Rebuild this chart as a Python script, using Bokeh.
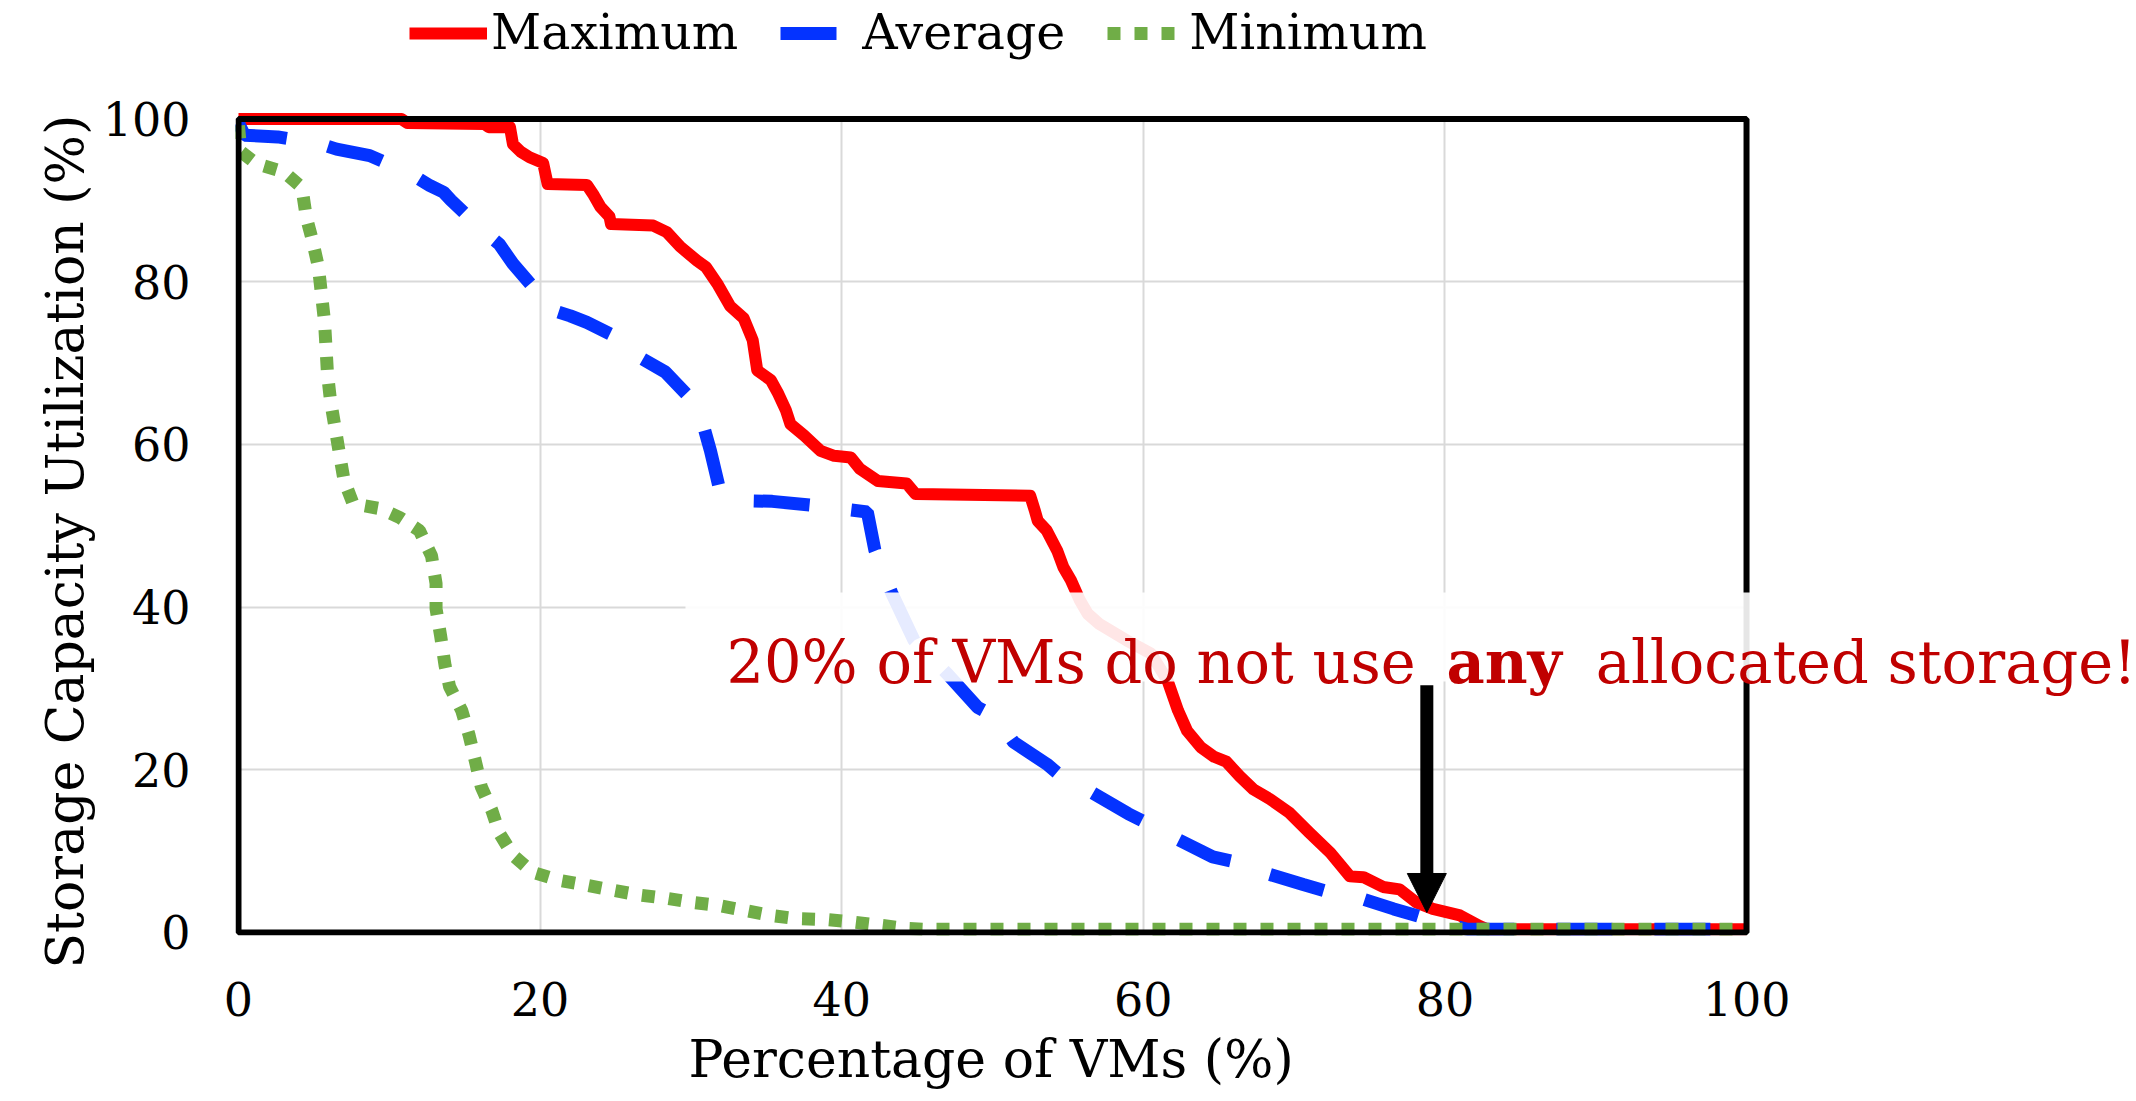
from bokeh.plotting import figure
from bokeh.models import Legend, LegendItem, BoxAnnotation, Label, Arrow, NormalHead, Range1d, Title
from bokeh.embed import file_html
from bokeh.resources import INLINE

# ---------------- data ----------------
max_x = [0, 10.8, 11.2, 16.3, 16.6, 18.0, 18.2, 18.7, 19.3, 20.2, 20.5, 23.1, 23.5, 24.0, 24.6,
         24.7, 27.5, 28.4, 29.3, 30.4, 31.0, 31.8, 32.6, 33.5, 34.1, 34.4, 35.3, 35.8, 36.3, 36.6,
         37.5, 38.6, 39.5, 40.6, 41.2, 42.4, 44.3, 44.9, 52.5, 52.8, 53.0, 53.6, 54.3, 54.7, 55.2,
         55.8, 56.3, 57.1, 58.9, 60.5, 61.6, 62.3, 62.9, 63.8, 64.7, 65.5, 66.4, 67.3, 68.4, 69.7,
         71.0, 72.4, 73.7, 74.6, 75.9, 77.0, 78.1, 79.2, 81.0, 82.3, 82.8, 100]
max_y = [100, 100, 99.5, 99.4, 99.0, 99.0, 96.9, 96.0, 95.3, 94.6, 92.0, 91.9, 90.8, 89.2, 88.0,
         87.1, 86.9, 86.1, 84.3, 82.6, 81.8, 79.6, 77.0, 75.5, 72.8, 69.1, 67.9, 66.2, 64.2, 62.5,
         61.1, 59.2, 58.6, 58.4, 57.0, 55.5, 55.2, 53.9, 53.7, 51.9, 50.6, 49.4, 46.9, 44.9, 43.3,
         40.8, 39.2, 37.9, 35.9, 34.3, 31.0, 27.3, 24.8, 22.8, 21.6, 21.0, 19.2, 17.6, 16.4, 14.7,
         12.3, 9.8, 6.9, 6.8, 5.6, 5.3, 3.7, 2.9, 2.1, 0.8, 0.4, 0.4]

avg_x = [0, 0.4, 2.6, 5.3, 6.5, 8.7, 11.2, 12.7, 13.6, 14.1, 16.2, 17.3, 18.2, 20.2, 20.5, 22.0,
         23.1, 25.5, 26.6, 28.3, 30.3, 30.8, 31.3, 31.9, 33.1, 35.4, 38.2, 39.9, 41.7, 42.2, 43.3,
         44.8, 47.0, 49.0, 50.2, 51.4, 53.6, 54.9, 56.5, 59.0, 60.5, 62.0, 64.6, 66.8, 67.9, 70.6,
         72.1, 73.9, 76.6, 78.1, 79.7, 81.5, 100]
avg_y = [99.5, 98.0, 97.8, 97.0, 96.3, 95.5, 93.5, 91.8, 91.0, 90.0, 86.3, 84.6, 82.2, 77.9, 76.7,
         75.8, 75.0, 72.8, 70.7, 68.9, 65.0, 62.5, 59.2, 54.5, 53.1, 53.0, 52.5, 52.1, 51.7, 47.0,
         41.8, 35.9, 31.8, 27.7, 26.5, 23.4, 20.7, 18.7, 17.3, 14.6, 13.2, 11.7, 9.3, 8.4, 7.4, 5.9,
         5.1, 4.5, 2.9, 2.1, 1.2, 0.4, 0.4]

min_x = [0, 0.15, 1.2, 3.0, 4.2, 4.5, 4.9, 5.3, 5.5, 5.7, 5.8, 5.9, 6.1, 6.4, 6.7, 7.0, 7.6, 9.4,
         10.7, 12.0, 12.8, 13.1, 13.1, 13.4, 13.7, 14.0, 14.8, 15.3, 15.7, 16.1, 16.8, 17.3, 18.2,
         19.5, 21.3, 23.1, 24.8, 26.6, 28.4, 30.1, 31.9, 33.6, 35.3, 37.0, 38.9, 40.7, 42.5, 44.3,
         45.5, 100]
min_y = [99.2, 96.0, 94.5, 93.5, 91.6, 87.9, 85.1, 81.8, 78.5, 75.2, 72.0, 68.7, 65.4, 62.1, 58.8,
         55.6, 52.7, 52.1, 51.0, 49.4, 46.3, 42.9, 39.8, 36.5, 32.8, 30.2, 27.3, 24.2, 21.1, 17.9,
         15.0, 12.2, 9.5, 7.4, 6.4, 5.8, 5.2, 4.6, 4.2, 3.7, 3.3, 2.7, 2.1, 1.7, 1.6, 1.3, 0.9, 0.5,
         0.4, 0.4]

x_ticks = [0, 20, 40, 60, 80, 100]
y_ticks = [0, 20, 40, 60, 80, 100]
series_names = ["Maximum", "Average", "Minimum"]
x_title = "Percentage of VMs (%)"
y_title = "Storage Capacity Utilization (%)"
note_parts = ["20% of VMs do not use", "any", "allocated storage!"]

# ---------------- styling ----------------
SERIF = "DejaVu Serif"
RED, BLUE, GREEN, NOTE = "#FF0000", "#0433FF", "#70AD47", "#C00000"

# The frame is larger than the 0-100 plot area so that the legend above it and the note
# that runs past its right edge are not clipped; the plot area border is drawn separately.
p = figure(width=2136, height=1101,
           x_range=Range1d(-0.199, 125.86), y_range=Range1d(-0.369, 114.57),
           output_backend="svg", toolbar_location=None,
           min_border_left=235, min_border_right=0, min_border_top=0, min_border_bottom=166)
p.background_fill_color = "white"
p.border_fill_color = "white"
p.outline_line_color = None

for ax in (p.xaxis[0], p.yaxis[0]):
    ax.axis_line_color = None
    ax.major_tick_line_color = None
    ax.minor_tick_line_color = None
    ax.major_tick_out = 0
    ax.major_tick_in = 0
    ax.major_label_text_font = SERIF
    ax.major_label_text_font_size = "46px"
    ax.major_label_text_color = "black"

p.xaxis.ticker = x_ticks
p.yaxis.ticker = y_ticks
p.xaxis.bounds = (0, 100)
p.yaxis.bounds = (0, 100)
p.xaxis.major_label_standoff = 46
p.yaxis.major_label_standoff = 45

# axis titles positioned against the 0-100 plot area (not the enlarged frame)
p.add_layout(Title(text=x_title, align="left", offset=453, standoff=16,
                   text_font=SERIF, text_font_size="52px", text_font_style="normal",
                   text_color="black"), "below")
p.add_layout(Title(text=y_title, align="left", offset=-33, standoff=10,
                   text_font=SERIF, text_font_size="52px", text_font_style="normal",
                   text_color="black"), "left")

p.xgrid.grid_line_color = "#D9D9D9"
p.ygrid.grid_line_color = "#D9D9D9"
p.xgrid.grid_line_width = 2
p.ygrid.grid_line_width = 2
p.xgrid.bounds = (0, 100)
p.ygrid.bounds = (0, 100)
p.xgrid.cross_bounds = (0, 100)
p.ygrid.cross_bounds = (0, 100)

r_max = p.line(max_x, max_y, line_color=RED, line_width=12, line_join="round")
r_avg = p.line(avg_x, avg_y, line_color=BLUE, line_width=13, line_dash="56 42")
r_min = p.line(min_x, min_y, line_color=GREEN, line_width=13, line_dash="13 14")

# plot-area border
p.add_layout(BoxAnnotation(left=0, right=100, bottom=0, top=100, fill_color=None,
                           line_color="black", line_alpha=1.0, line_width=6))

legend = Legend(items=[LegendItem(label=series_names[0], renderers=[r_max]),
                       LegendItem(label=series_names[1], renderers=[r_avg]),
                       LegendItem(label=series_names[2], renderers=[r_min])],
                orientation="horizontal", location=(174, 874),
                glyph_width=78, glyph_height=50, label_standoff=4, spacing=42,
                padding=0, margin=0, border_line_color=None, background_fill_alpha=0,
                label_text_font=SERIF, label_text_font_size="49px", label_text_color="black")

# annotation: translucent box, text, arrow
p.add_layout(BoxAnnotation(left=29.64, right=125.86, bottom=30.85, top=41.79,
                           fill_color="white", fill_alpha=0.9, line_color=None))

common = dict(y=33.2, text_font=SERIF, text_font_size="59px", text_color=NOTE,
              text_baseline="alphabetic", text_align="left")
p.add_layout(Label(x=32.36, text=note_parts[0], **common))
p.add_layout(Label(x=80.1, text=note_parts[1], text_font_style="bold", **common))
p.add_layout(Label(x=90.0, text=note_parts[2], **common))

p.add_layout(Arrow(end=NormalHead(size=39, fill_color="black", line_color="black", line_width=1),
                   x_start=78.8, y_start=30.4, x_end=78.8, y_end=2.46,
                   line_color="black", line_width=13))

p.add_layout(legend, "center")

open("out.html", "w").write(file_html(p, INLINE))
